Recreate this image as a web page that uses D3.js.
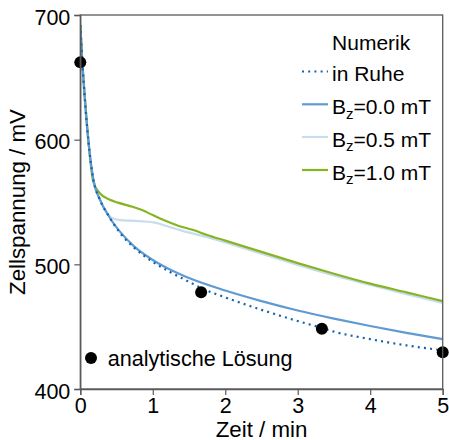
<!DOCTYPE html>
<html>
<head>
<meta charset="utf-8">
<script src="https://cdn.jsdelivr.net/npm/d3@7"></script>
<style>
  html, body { margin: 0; padding: 0; background: #fff; }
  svg { display: block; font-family: "Liberation Sans", Arial, sans-serif; }
</style>
</head>
<body>
<svg id="chart" width="449" height="440"></svg>
<script>
// Zeit in Minuten, Zellspannung in mV
const ruheT = [0, 0.03, 0.066, 0.11, 0.18, 0.27, 0.4, 0.55, 0.75, 1.0, 1.25, 1.5, 1.667, 2.0, 2.5, 3.0, 3.333, 3.5, 4.0, 4.5, 5.0];
const ruheV = [692, 660, 630, 600, 568, 552, 538, 525, 513, 502, 493.5, 486, 481, 473.5, 463.5, 454.5, 449, 446, 440, 435, 431];

const bz00T = [0, 0.03, 0.066, 0.11, 0.18, 0.27, 0.4, 0.55, 0.75, 1.0, 1.25, 1.5, 2.0, 2.5, 3.0, 3.5, 4.0, 4.5, 5.0];
const bz00V = [692, 660, 630, 600, 568, 552, 538, 526, 514, 503.5, 495.5, 489, 479, 470.5, 463, 456.5, 450.5, 445, 440];

const bz05T = [0, 0.03, 0.066, 0.11, 0.18, 0.27, 0.35, 0.43, 0.55, 0.7, 0.85, 1.03, 1.2, 1.4, 1.74, 2.0, 2.5, 3.0, 3.5, 4.0, 4.5, 5.0];
const bz05V = [692, 660, 630, 600, 568, 552, 543, 537.5, 535.5, 535, 534.5, 533.4, 530.5, 527, 522, 517.5, 508.5, 499.5, 491, 483.5, 476, 469];

const bz10T = [0, 0.03, 0.066, 0.11, 0.18, 0.27, 0.4, 0.52, 0.7, 0.85, 1.0, 1.15, 1.35, 1.56, 1.75, 2.0, 2.5, 3.0, 3.5, 4.0, 4.5, 5.0];
const bz10V = [692, 661, 632, 600, 566, 557, 552, 549.5, 546.5, 543.5, 539.5, 535.5, 531, 527.5, 523.5, 519, 510, 501, 492.5, 484.5, 477.5, 470.5];

// analytische Lösung
const anaT = [0, 1.667, 3.333, 5];
const anaV = [662, 477.6, 448.3, 429.5];

const xTicks = [0, 1, 2, 3, 4, 5];
const yTicks = [400, 500, 600, 700];

const seriesNames = ["in Ruhe", "0.0", "0.5", "1.0"];
const seriesColors = ["#1462ad", "#5f9bd2", "#c7dcef", "#88b424"];

const svg = d3.select("#chart");
const margin = { left: 80.3, right: 6.3, top: 15, bottom: 51 };
const W = 449, H = 440;

const x = d3.scaleLinear().domain([0, 5]).range([margin.left, W - margin.right]);
const y = d3.scaleLinear().domain([400, 700]).range([H - margin.bottom, margin.top]);

const frameColor = "#5a5a5a";
const fontFamily = "'Liberation Sans', Arial, sans-serif";

// Kurven
const line = d3.line().x(d => x(d[0])).y(d => y(d[1])).curve(d3.curveMonotoneX);
const zip = (a, b) => a.map((t, i) => [t, b[i]]);

const curves = [
  { data: zip(bz05T, bz05V), color: seriesColors[2], width: 2.2, dash: null },
  { data: zip(bz10T, bz10V), color: seriesColors[3], width: 2.2, dash: null },
  { data: zip(bz00T, bz00V), color: seriesColors[1], width: 2.2, dash: null },
  { data: zip(ruheT, ruheV), color: seriesColors[0], width: 2.2, dash: "2,4.2" }
];

svg.append("clipPath").attr("id", "plotclip")
  .append("rect")
  .attr("x", margin.left).attr("y", margin.top)
  .attr("width", W - margin.right - margin.left)
  .attr("height", H - margin.bottom - margin.top);

const plot = svg.append("g").attr("clip-path", "url(#plotclip)");
curves.forEach(c => {
  plot.append("path")
    .attr("d", line(c.data))
    .attr("fill", "none")
    .attr("stroke", c.color)
    .attr("stroke-width", c.width)
    .attr("stroke-dasharray", c.dash);
});

// Punkte der analytischen Lösung
svg.append("g").selectAll("circle")
  .data(zip(anaT, anaV))
  .join("circle")
  .attr("cx", d => x(d[0]))
  .attr("cy", d => y(d[1]))
  .attr("r", 6)
  .attr("fill", "#000");

// Rahmen
svg.append("rect")
  .attr("x", margin.left).attr("y", margin.top)
  .attr("width", W - margin.right - margin.left)
  .attr("height", H - margin.bottom - margin.top)
  .attr("fill", "none")
  .attr("stroke", frameColor)
  .attr("stroke-width", 1.3);

// Achsen
const xAxis = svg.append("g")
  .attr("transform", `translate(0,${H - margin.bottom})`)
  .call(d3.axisBottom(x).tickValues(xTicks).tickFormat(d3.format("d")).tickSize(6));
const yAxis = svg.append("g")
  .attr("transform", `translate(${margin.left},0)`)
  .call(d3.axisLeft(y).tickValues(yTicks).tickFormat(d3.format("d")).tickSize(6).tickPadding(4));

[xAxis, yAxis].forEach(a => {
  a.select(".domain").attr("stroke", frameColor).attr("stroke-width", 1.3);
  a.selectAll(".tick line").attr("stroke", frameColor).attr("stroke-width", 1.2);
  a.selectAll(".tick text")
    .attr("fill", "#000")
    .style("font-family", fontFamily)
    .style("font-size", "21.5px");
});
xAxis.selectAll(".tick text").attr("y", 24.3).attr("dy", 0);
yAxis.selectAll(".tick text").attr("dy", 9).attr("y", 0);

// Achsentitel
svg.append("text")
  .attr("x", (x(0) + x(5)) / 2)
  .attr("y", 436.5)
  .attr("text-anchor", "middle")
  .style("font-size", "22.3px")
  .text("Zeit / min");

svg.append("text")
  .attr("transform", `translate(24.5,${(y(400) + y(700)) / 2}) rotate(-90)`)
  .attr("text-anchor", "middle")
  .style("font-size", "22.3px")
  .text("Zellspannung / mV");

// Legende
const legend = svg.append("g");
legend.append("text")
  .attr("x", 371.2).attr("y", 50.3)
  .attr("text-anchor", "middle")
  .style("font-size", "21px")
  .text("Numerik");

const rowY = [71.5, 104.3, 137, 170];
const legendItems = [
  { color: seriesColors[0], dash: "2,4.2", label: null, text: seriesNames[0] },
  { color: seriesColors[1], dash: null, label: seriesNames[1] },
  { color: seriesColors[2], dash: null, label: seriesNames[2] },
  { color: seriesColors[3], dash: null, label: seriesNames[3] }
];
legendItems.forEach((it, i) => {
  const cy = rowY[i];
  legend.append("line")
    .attr("x1", 302).attr("x2", 328)
    .attr("y1", cy).attr("y2", cy)
    .attr("stroke", it.color)
    .attr("stroke-width", 2.2)
    .attr("stroke-dasharray", it.dash);
  const t = legend.append("text")
    .attr("x", 332).attr("y", cy + 9.8)
    .style("font-size", "21px");
  if (it.label === null) {
    t.text(it.text);
  } else {
    t.append("tspan").text("B");
    t.append("tspan").attr("dy", 4.5).style("font-size", "15px").text("z");
    t.append("tspan").attr("dy", -4.5).text(`=${it.label} mT`);
  }
});

// Legende der analytischen Lösung
svg.append("circle").attr("cx", 91).attr("cy", 358).attr("r", 6).attr("fill", "#000");
svg.append("text")
  .attr("x", 107.7).attr("y", 366)
  .style("font-size", "21.6px")
  .text("analytische Lösung");
</script>
</body>
</html>
